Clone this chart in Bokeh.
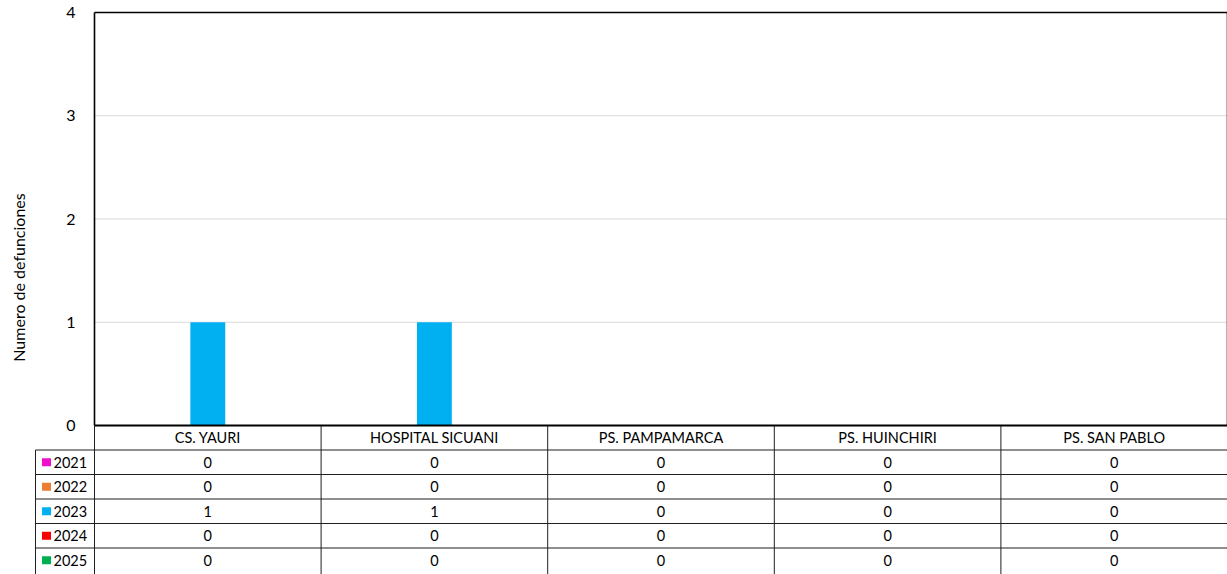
import math
from bokeh.plotting import figure
from bokeh.models import Range1d
from bokeh.core.properties import value
from bokeh.embed import file_html
from bokeh.resources import INLINE

# ---------------- data ----------------
categories = ["CS. YAURI", "HOSPITAL SICUANI", "PS. PAMPAMARCA", "PS. HUINCHIRI", "PS. SAN PABLO"]
years = ["2021", "2022", "2023", "2024", "2025"]
v2021 = [0, 0, 0, 0, 0]
v2022 = [0, 0, 0, 0, 0]
v2023 = [1, 1, 0, 0, 0]
v2024 = [0, 0, 0, 0, 0]
v2025 = [0, 0, 0, 0, 0]
series = [v2021, v2022, v2023, v2024, v2025]
colors = ["#F00FCC", "#ED7D31", "#00B0F0", "#FF0000", "#00B050"]
y_ticks = [0, 1, 2, 3, 4]
y_title = "Numero de defunciones"

# ---------------- layout constants (pixels) ----------------
FONT = "Lato"
W, H = 1227, 574
PLOT_L = 94          # chart frame left
ZERO_Y = 425         # pixel row of value 0
TOP_Y = 12           # pixel row of value 4
ncat = len(categories)
ppc = (W - PLOT_L) / ncat                  # pixels per category
ppu = (ZERO_Y - TOP_Y) / max(y_ticks)      # pixels per value unit
row_u = 24.5 / ppu                          # table row height in value units
leg_left = -(PLOT_L - 35) / ppc

def px_x(px):
    return (px - PLOT_L) / ppc

p = figure(width=W, height=H, output_backend="svg", toolbar_location=None,
           x_range=Range1d(px_x(0), ncat),
           y_range=Range1d(-(H - ZERO_Y) / ppu, ZERO_Y / ppu),
           x_axis_location=None, y_axis_location=None,
           min_border=0, min_border_left=0, min_border_right=0,
           min_border_top=0, min_border_bottom=0)
p.outline_line_color = None
p.grid.visible = False
p.background_fill_color = "white"

ymax = max(y_ticks)
# gridlines
gl = [t for t in y_ticks if 0 < t < ymax]
p.segment(x0=[0] * len(gl), y0=gl, x1=[ncat] * len(gl), y1=gl, line_color="#D9D9D9", line_width=1)

# bars
nser = len(series)
bw = 1 / (nser + 1.5)
for k, vals in enumerate(series):
    xs = [i + 0.5 + (k - (nser - 1) / 2) * bw for i in range(ncat)]
    p.vbar(x=xs, top=vals, bottom=0, width=bw, fill_color=colors[k], line_color=None)

# chart border
p.segment(x0=[0, 0, ncat], y0=[0, ymax, 0], x1=[0, ncat, ncat], y1=[ymax, ymax, ymax],
          line_color="black", line_width=1.6)

# y tick labels
p.text(x=[px_x(PLOT_L - 19)] * len(y_ticks), y=y_ticks, text=[str(t) for t in y_ticks],
       text_font=value(FONT), text_font_size="16px", text_color="black",
       text_align="right", text_baseline="middle")

# y title
p.text(x=[px_x(18)], y=[(ZERO_Y - 277) / ppu], text=[y_title], angle=math.pi / 2,
       text_font=value(FONT), text_font_size="16px", text_color="black",
       text_align="center", text_baseline="middle")

# ---------------- data table ----------------
nrows = len(years) + 1
line_col = "#1f1f1f"
bottom = -(nrows + 1) * row_u
# category boundaries
p.segment(x0=list(range(ncat + 1)), y0=[0] * (ncat + 1), x1=list(range(ncat + 1)),
          y1=[bottom] * (ncat + 1), line_color=line_col, line_width=1)
# legend column left boundary
p.segment(x0=[leg_left], y0=[-row_u], x1=[leg_left], y1=[bottom], line_color=line_col, line_width=1)
# row lines
rl = [-(r + 1) * row_u for r in range(len(years))]
p.segment(x0=[leg_left] * len(rl), y0=rl, x1=[ncat] * len(rl), y1=rl, line_color=line_col, line_width=1)
# axis line
p.segment(x0=[0], y0=[0], x1=[ncat], y1=[0], line_color="black", line_width=2)

# header text
p.text(x=[i + 0.5 for i in range(ncat)], y=[-0.5 * row_u] * ncat, text=categories,
       text_font=value(FONT), text_font_size="14.5px", text_color="black",
       text_align="center", text_baseline="middle")

# rows
for r, (yr, vals) in enumerate(zip(years, series)):
    yc = -(r + 1.5) * row_u
    p.text(x=[i + 0.5 for i in range(ncat)], y=[yc] * ncat, text=[str(v) for v in vals],
           text_font=value(FONT), text_font_size="14.5px", text_color="black",
           text_align="center", text_baseline="middle")
    p.rect(x=[px_x(46)], y=[yc], width=9, height=8,
           width_units="screen", height_units="screen", fill_color=colors[r], line_color=None)
    p.text(x=[px_x(53)], y=[yc], text=[yr],
           text_font=value(FONT), text_font_size="14.5px", text_color="black",
           text_align="left", text_baseline="middle")

open("out.html", "w").write(file_html(p, INLINE))
